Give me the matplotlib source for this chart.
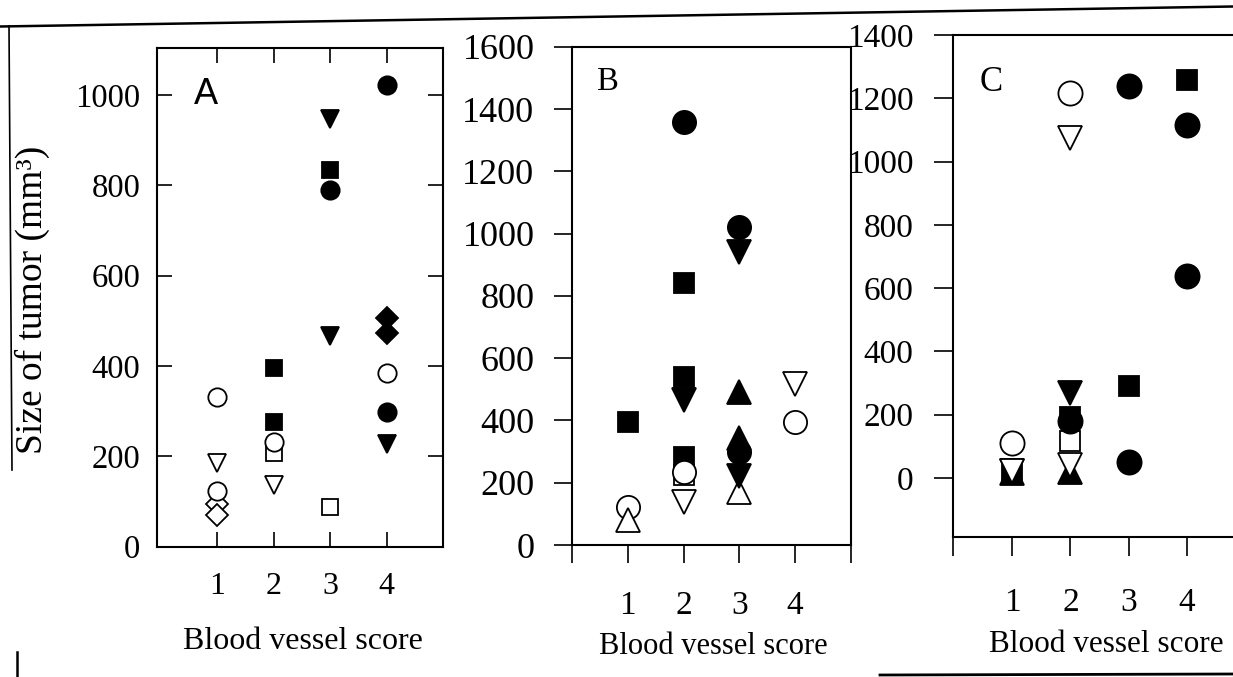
import matplotlib
matplotlib.use("Agg")
import matplotlib.pyplot as plt
from matplotlib.lines import Line2D

plt.rcParams["font.family"] = ["Liberation Serif", "DejaVu Serif"]

W, H = 1233, 677

# ---- data: blood vessel score, tumor size (mm3), symbol (one per mouse group)
a_score = [1, 1, 1, 1, 1,
           2, 2, 2, 2, 2,
           3, 3, 3, 3, 3,
           4, 4, 4, 4, 4, 4]
a_size = [331, 186, 95, 124, 70,
          395, 277, 207, 232, 137,
          946, 835, 790, 467, 87,
          1022, 506, 472, 385, 299, 227]
a_symbol = ["open_circle", "open_tri_down", "open_diamond", "open_circle", "open_diamond",
            "filled_square", "filled_square", "open_square", "open_circle", "open_tri_down",
            "filled_tri_down", "filled_square", "filled_circle", "filled_tri_down", "open_square",
            "filled_circle", "filled_diamond", "filled_diamond", "open_circle", "filled_circle",
            "filled_tri_down"]

b_score = [1, 1, 1,
           2, 2, 2, 2, 2, 2, 2, 2,
           3, 3, 3, 3, 3, 3, 3,
           4, 4]
b_size = [396, 123, 80,
          1359, 840, 540, 466, 284, 225, 235, 139,
          1022, 942, 490, 345, 300, 169, 222,
          516, 396]
b_symbol = ["filled_square", "open_circle", "open_tri_up",
            "filled_circle", "filled_square", "filled_square", "filled_tri_down",
            "filled_square", "open_square", "open_circle", "open_tri_down",
            "filled_circle", "filled_tri_down", "filled_tri_up", "filled_tri_up",
            "filled_circle", "open_tri_up", "filled_tri_down",
            "open_tri_down", "open_circle"]

c_score = [1, 1, 1, 1, 1,
           2, 2, 2, 2, 2, 2, 2, 2,
           3, 3, 3,
           4, 4, 4]
c_size = [19, 22, 15, 22, 111,
          1216, 1073, 268, 117, 193, 180, 20, 42,
          1239, 290, 51,
          1258, 1115, 638]
c_symbol = ["filled_square", "filled_tri_down", "filled_tri_up", "open_tri_down", "open_circle",
            "open_circle", "open_tri_down", "filled_tri_down", "open_square",
            "filled_square", "filled_circle", "filled_tri_up", "open_tri_down",
            "filled_circle", "filled_square", "filled_circle",
            "filled_square", "filled_circle", "filled_circle"]

score_ticks = [1, 2, 3, 4]
x_label = "Blood vessel score"
y_label = "Size of tumor (mm³)"

# ---- symbol styles
SHAPE = {"circle": ("o", 1.0), "square": ("s", 0.85), "tri_down": ("v", 1.0),
         "tri_up": ("^", 1.0), "diamond": ("D", 0.82)}


def draw_points(ax, xs, ys, symbols, base_ms):
    for x, y, sym in zip(xs, ys, symbols):
        fill, shape = sym.split("_", 1)
        marker, scale = SHAPE[shape]
        ax.plot([x], [y], linestyle="none", marker=marker, ms=base_ms * scale,
                mfc="black" if fill == "filled" else "white", mec="black",
                mew=1.3, clip_on=False)


def px_box(left, top, right, bottom):
    return [left / W, 1 - bottom / H, (right - left) / W, (bottom - top) / H]


fig = plt.figure(figsize=(W / 100, H / 100), dpi=100)

# ---- panel A
axA = fig.add_axes(px_box(157, 48, 443, 546.7))
draw_points(axA, a_score, a_size, a_symbol, 13.2)
axA.set_xlim(-0.07, 5.0)
axA.set_ylim(0, 1104)
axA.set_xticks(score_ticks)
axA.set_yticks(range(0, 1001, 200))
axA.tick_params(direction="in", length=10.5, width=1.2, top=True, right=True)
axA.tick_params(axis="x", labelsize=23, pad=18.5)
axA.tick_params(axis="y", labelsize=23.5, pad=12)
axA.text(0.17, 0.906, "A", transform=axA.transAxes, fontsize=26,
         family="Liberation Sans", ha="center", va="center")
axA.set_xlabel(x_label, fontsize=23, va="center")
axA.xaxis.set_label_coords(0.5115, -0.191)
axA.set_ylabel(y_label, fontsize=27, va="center")
axA.yaxis.set_label_coords(-0.437, 0.495)

# ---- panel B
axB = fig.add_axes(px_box(571.9, 46.8, 850.9, 545))
draw_points(axB, b_score, b_size, b_symbol, 16.7)
axB.set_xlim(0, 5)
axB.set_ylim(0, 1600)
axB.set_xticks(score_ticks)
axB.set_xticks([0, 5], minor=True)
axB.set_yticks(range(0, 1601, 200))
axB.tick_params(direction="out", length=13, width=1.2)
axB.tick_params(axis="x", which="minor", length=13, width=1.2)
axB.tick_params(axis="x", labelsize=24, pad=20)
axB.tick_params(axis="y", labelsize=26, pad=14)
axB.text(0.129, 0.93, "B", transform=axB.transAxes, fontsize=23.5,
         ha="center", va="center")
axB.set_xlabel(x_label, fontsize=22, va="center")
axB.xaxis.set_label_coords(0.506, -0.203)

# ---- panel C
axC = fig.add_axes(px_box(952.5, 35, 1244.7, 537.3))
draw_points(axC, c_score, c_size, c_symbol, 17.4)
axC.set_xlim(-0.03, 5)
axC.set_ylim(-188, 1400)
axC.set_xticks(score_ticks)
axC.set_xticks([-0.03], minor=True)
axC.set_yticks(range(0, 1401, 200))
axC.tick_params(direction="out", length=14, width=1.2)
axC.tick_params(axis="x", which="minor", length=14, width=1.2)
axC.tick_params(axis="x", labelsize=24, pad=22)
axC.tick_params(axis="y", labelsize=24, pad=14)
axC.text(0.134, 0.905, "C", transform=axC.transAxes, fontsize=25,
         ha="center", va="center")
axC.set_xlabel(x_label, fontsize=22.5, va="center")
axC.xaxis.set_label_coords(0.528, -0.2144)

for ax in (axA, axB, axC):
    for sp in ax.spines.values():
        sp.set_linewidth(1.5)

# ---- scanned page frame
def frame_line(xs, ys, lw):
    fig.add_artist(Line2D([x / W for x in xs], [1 - y / H for y in ys],
                          transform=fig.transFigure, color="black", lw=lw))

frame_line([0, 1233], [26.5, 6.5], 1.8)
frame_line([9, 12], [26, 470], 1.2)
frame_line([16.7, 16.7], [652, 677], 1.8)
frame_line([880, 1233], [675, 674], 2.0)

fig.savefig("out.png", dpi=100)
